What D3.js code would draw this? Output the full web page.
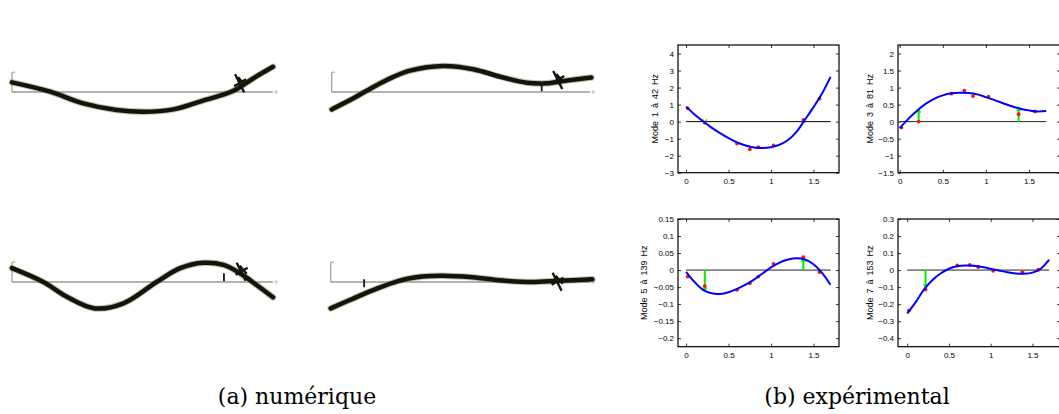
<!DOCTYPE html>
<html><head><meta charset="utf-8">
<script src="https://cdn.jsdelivr.net/npm/d3@7"></script>
<style>body{margin:0;background:#fff} svg{display:block}</style>
</head><body>
<svg id="c" width="1059" height="414"></svg>
<script>
// ===== (b) expérimental : data =====
const measX = [0.02, 0.22, 0.6, 0.75, 0.85, 1.03, 1.38, 1.57];
const meas1 = [0.78, -0.06, -1.29, -1.62, -1.5, -1.4, 0.1, 1.35];
const meas3 = [-0.17, 0.0, 0.82, 0.91, 0.75, 0.73, 0.22, 0.3];
const meas5 = [-0.019, -0.047, -0.058, -0.039, -0.019, 0.018, 0.038, -0.006];
const meas7 = [-0.238, -0.114, 0.028, 0.03, 0.018, -0.004, -0.012, 0.002];

const fitX = [0, 0.1, 0.2, 0.3, 0.4, 0.5, 0.6, 0.7, 0.8, 0.9, 1.0, 1.1, 1.2, 1.3, 1.4, 1.5, 1.6, 1.7];
const fit1 = [0.88, 0.42, 0.02, -0.35, -0.68, -0.97, -1.22, -1.4, -1.52, -1.55, -1.5, -1.36, -1.08, -0.6, 0.12, 0.85, 1.65, 2.63];
const fit3 = [-0.19, 0.08, 0.32, 0.52, 0.67, 0.77, 0.83, 0.85, 0.84, 0.8, 0.72, 0.63, 0.54, 0.45, 0.38, 0.33, 0.3, 0.31];
const fit5 = [-0.005, -0.035, -0.058, -0.068, -0.07, -0.065, -0.055, -0.043, -0.028, -0.01, 0.008, 0.022, 0.031, 0.035, 0.031, 0.017, -0.008, -0.043];
const fit7 = [-0.255, -0.19, -0.115, -0.06, -0.02, 0.008, 0.022, 0.027, 0.025, 0.018, 0.008, -0.003, -0.013, -0.02, -0.022, -0.015, 0.008, 0.061];

const greenX = [0.22, 1.38];
const green1 = [-0.04, 0.08];
const green3 = [0.35, 0.4];
const green5 = [-0.06, 0.033];
const green7 = [-0.1, -0.02];

const modeLabels = ["Mode 1 à 42 Hz", "Mode 3 à 81 Hz", "Mode 5 à 139 Hz", "Mode 7 à 153 Hz"];
const xTicks = [0, 0.5, 1, 1.5];
const yTicks1 = [-3, -2, -1, 0, 1, 2, 3, 4];
const yTicks3 = [-1.5, -1, -0.5, 0, 0.5, 1, 1.5, 2];
const yTicks5 = [-0.2, -0.15, -0.1, -0.05, 0, 0.05, 0.1, 0.15];
const yTicks7 = [-0.4, -0.3, -0.2, -0.1, 0, 0.1, 0.2, 0.3];
const yDomains = [[-3, 4.5], [-1.5, 2.25], [-0.225, 0.15], [-0.45, 0.3]];
const xDomains = [[-0.095, 1.8], [-0.02, 1.86], [-0.095, 1.8], [-0.11, 1.83]];
const zeroLineEnd = [0, 1.7];

// ===== (a) numérique : beam shapes (normalised length, deflection) =====
const num1 = [[0,0.32],[0.146,0.01],[0.273,-0.38],[0.401,-0.6],[0.503,-0.66],[0.618,-0.58],[0.72,-0.32],[0.848,0.04],[0.925,0.46],[1.0,0.84]];
const num2 = [[0,-0.58],[0.071,-0.27],[0.135,0.04],[0.213,0.4],[0.303,0.71],[0.432,0.87],[0.548,0.76],[0.652,0.51],[0.755,0.31],[0.832,0.29],[0.91,0.38],[1.005,0.48]];
const num3 = [[0,0.46],[0.12,0],[0.21,-0.49],[0.318,-0.88],[0.427,-0.71],[0.554,0],[0.644,0.46],[0.733,0.64],[0.81,0.57],[0.874,0.29],[0.937,-0.1],[1.0,-0.51]];
const num4 = [[0,-0.88],[0.074,-0.6],[0.164,-0.27],[0.263,0.04],[0.353,0.18],[0.43,0.21],[0.546,0.16],[0.675,0.04],[0.777,0],[0.88,0.04],[1.009,0.09]];
const numCross = [[0.874,0.29],[0.877,0.4],[0.88,0.34],[0.875,0.01]];
const numTick = [[0.874,0.29],[0.813,0.16],[0.812,0.16],[0.129,-0.04]];
const captions = ["(a) numérique", "(b) expérimental"];

const svg = d3.select("#c");
const fmt = v => (v < 0 ? "\u2212" : "") + String(Math.abs(v));

// ---------- (b) panels ----------
const boxes = [
  {l: 678, r: 839, t: 45, b: 172.7, lab: 20},
  {l: 898, r: 1060, t: 45, b: 172.7, lab: 25},
  {l: 678, r: 839, t: 219, b: 346.7, lab: 31},
  {l: 898, r: 1060, t: 219, b: 346.7, lab: 25}
];
const measAll = [meas1, meas3, meas5, meas7];
const fitAll = [fit1, fit3, fit5, fit7];
const greenAll = [green1, green3, green5, green7];
const yTicksAll = [yTicks1, yTicks3, yTicks5, yTicks7];
const zeroColor = ["#000", "#222", "#808080", "#808080"];
const zeroWidth = [1, 1, 1.6, 1.6];

boxes.forEach((bx, i) => {
  const x = d3.scaleLinear().domain(xDomains[i]).range([bx.l, bx.r]);
  const y = d3.scaleLinear().domain(yDomains[i]).range([bx.b, bx.t]);
  const g = svg.append("g");
  const tl = 3;
  g.append("g").attr("transform", `translate(${bx.l},0)`)
    .call(d3.axisLeft(y).tickValues(yTicksAll[i]).tickSizeInner(-tl).tickSizeOuter(0).tickPadding(4).tickFormat(fmt));
  g.append("g").attr("transform", `translate(${bx.r},0)`)
    .call(d3.axisRight(y).tickValues(yTicksAll[i]).tickSizeInner(-tl).tickSizeOuter(0).tickFormat(""));
  g.append("g").attr("transform", `translate(0,${bx.b})`)
    .call(d3.axisBottom(x).tickValues(xTicks).tickSizeInner(-tl).tickSizeOuter(0).tickPadding(6).tickFormat(fmt));
  g.append("g").attr("transform", `translate(0,${bx.t})`)
    .call(d3.axisTop(x).tickValues(xTicks).tickSizeInner(-tl).tickSizeOuter(0).tickFormat(""));
  g.selectAll(".domain").remove();
  g.selectAll("text").attr("font-family", "Liberation Sans, Arial, sans-serif").attr("font-size", 8).attr("fill", "#000");
  g.selectAll(".tick line").attr("stroke", "#000").attr("stroke-width", 0.8);
  g.append("rect").attr("x", bx.l).attr("y", bx.t).attr("width", bx.r - bx.l).attr("height", bx.b - bx.t)
    .attr("fill", "none").attr("stroke", "#000").attr("stroke-width", 1.2);
  g.append("line").attr("x1", x(zeroLineEnd[0])).attr("x2", x(zeroLineEnd[1])).attr("y1", y(0)).attr("y2", y(0))
    .attr("stroke", zeroColor[i]).attr("stroke-width", zeroWidth[i]);
  greenX.forEach((gx, k) => {
    const gv = greenAll[i][k];
    g.append("line").attr("x1", x(gx)).attr("x2", x(gx)).attr("y1", y(0)).attr("y2", y(gv))
      .attr("stroke", "#00ee00").attr("stroke-width", 2);
    const dir = gv >= 0 ? -1 : 1;
    const tipY = y(gv);
    g.append("path").attr("d", `M${x(gx)-2},${tipY - dir*3} L${x(gx)},${tipY} L${x(gx)+2},${tipY - dir*3}`)
      .attr("fill", "none").attr("stroke", "#00ee00").attr("stroke-width", 1.2);
  });
  g.selectAll("circle.m").data(measX.map((v, k) => [v, measAll[i][k]])).join("circle")
    .attr("cx", d => x(d[0])).attr("cy", d => y(d[1])).attr("r", 1.9).attr("fill", "#ff1010");
  const line = d3.line().x((d, k) => x(fitX[k])).y(d => y(d)).curve(d3.curveCatmullRom.alpha(0.5));
  g.append("path").attr("d", line(fitAll[i])).attr("fill", "none").attr("stroke", "#0000ff").attr("stroke-width", 2);
  g.append("text").attr("transform", `translate(${bx.l - bx.lab},${(bx.t + bx.b) / 2}) rotate(-90)`)
    .attr("text-anchor", "middle").attr("font-family", "Liberation Sans, Arial, sans-serif")
    .attr("font-size", 9).attr("word-spacing", 1.5).text(modeLabels[i]);
});

// ---------- (a) panels ----------
const numBoxes = [
  {x0: 12, x1: 273, base: 92},
  {x0: 331.7, x1: 590, base: 92},
  {x0: 12, x1: 273, base: 282},
  {x0: 330.7, x1: 590, base: 282}
];
const numAll = [num1, num2, num3, num4];
numBoxes.forEach((nb, i) => {
  const x = d3.scaleLinear().domain([0, 1]).range([nb.x0, nb.x1]);
  const y = d3.scaleLinear().domain([-1, 1]).range([nb.base + 30, nb.base - 30]);
  const g = svg.append("g");
  g.append("line").attr("x1", x(0)).attr("x2", x(1)).attr("y1", y(0)).attr("y2", y(0))
    .attr("stroke", "#9a9a9a").attr("stroke-width", 1.5);
  g.append("line").attr("x1", x(0)).attr("x2", x(0)).attr("y1", y(0)).attr("y2", y(0.66))
    .attr("stroke", "#9a9a9a").attr("stroke-width", 1.2);
  g.append("line").attr("x1", x(0)).attr("x2", x(0.012)).attr("y1", y(0.66)).attr("y2", y(0.66))
    .attr("stroke", "#9a9a9a").attr("stroke-width", 1);
  g.append("circle").attr("cx", x(1.012)).attr("cy", y(0)).attr("r", 1.2).attr("fill", "none").attr("stroke", "#aaa").attr("stroke-width", 0.8);
  const line = d3.line().x(d => x(d[0])).y(d => y(d[1])).curve(d3.curveCatmullRom.alpha(0.5));
  g.append("path").attr("d", line(numAll[i])).attr("fill", "none").attr("stroke", "#8a8a55").attr("stroke-opacity", 0.5)
    .attr("stroke-width", 6.5).attr("stroke-linecap", "round");
  g.append("path").attr("d", line(numAll[i])).attr("fill", "none").attr("stroke", "#14140a")
    .attr("stroke-width", 4.5).attr("stroke-linecap", "round");
  const c = numCross[i];
  const cx = x(c[0]), cy = y(c[1]);
  g.append("path").attr("d", `M${cx-5},${cy-9} L${cx+4},${cy+9} M${cx-6},${cy+3} L${cx+6},${cy-4} M${cx-2},${cy-6} L${cx+5},${cy+2}`)
    .attr("stroke", "#14140a").attr("stroke-width", 2.4).attr("fill", "none");
  const t = numTick[i];
  if (i > 0) {
    g.append("line").attr("x1", x(t[0])).attr("x2", x(t[0])).attr("y1", y(t[1]) - 4).attr("y2", y(t[1]) + 4)
      .attr("stroke", "#14140a").attr("stroke-width", 1.8);
  }
});

// ---------- captions ----------
svg.append("text").attr("x", 297).attr("y", 404).attr("text-anchor", "middle")
  .attr("font-family", "DejaVu Serif, serif").attr("font-size", 22).text(captions[0]);
svg.append("text").attr("x", 857).attr("y", 404).attr("text-anchor", "middle")
  .attr("font-family", "DejaVu Serif, serif").attr("font-size", 22).text(captions[1]);
</script>
</body></html>
